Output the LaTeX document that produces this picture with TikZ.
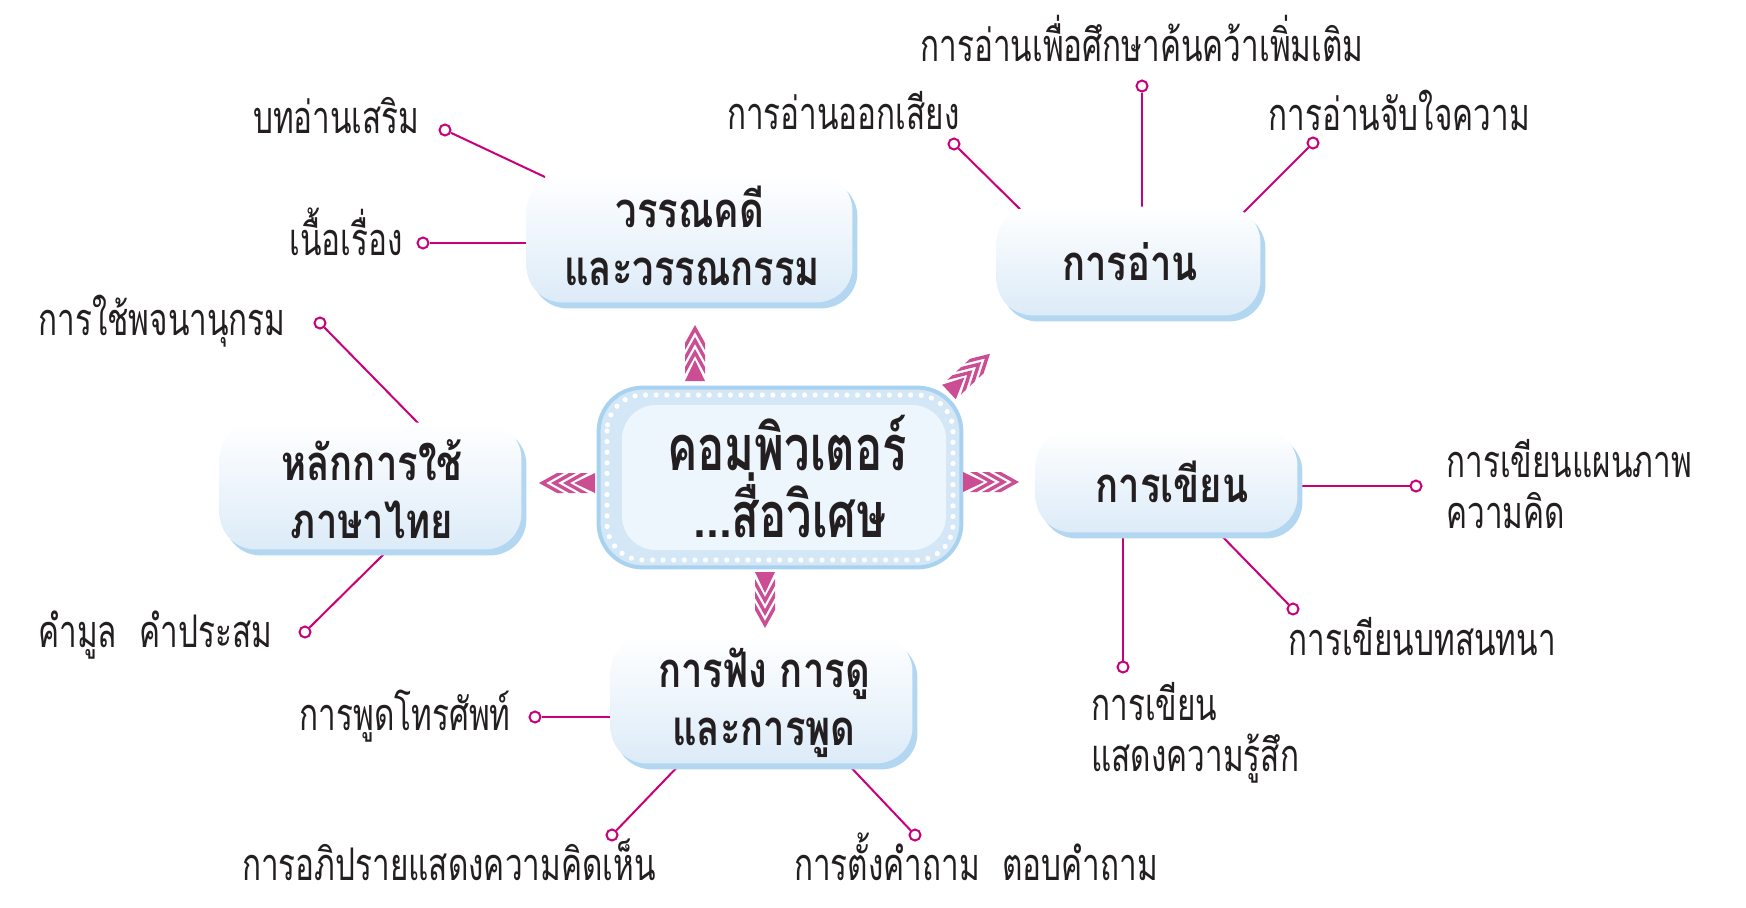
\documentclass[tikz,border=0pt]{standalone}
\usepackage{fontspec}
\newfontfamily\thaifont[Script=Thai, FakeStretch=0.70]{Loma}
\newfontfamily\thaititle[Script=Thai, FakeStretch=0.78]{Loma}
\newfontfamily\thaihub[Script=Thai, FakeStretch=0.72]{Loma}
\usetikzlibrary{calc}
\pgfdeclarelayer{background}
\pgfsetlayers{background,main}
\definecolor{lnk}{HTML}{C8007A}
\definecolor{arw}{HTML}{CB4E94}
\definecolor{txt}{HTML}{231F20}
\definecolor{boxbot}{HTML}{DCEBF8}
\definecolor{shadowc}{HTML}{B3D7F0}
\definecolor{ringc}{HTML}{D3E7F6}
\definecolor{borderc}{HTML}{A9D2F0}
\definecolor{innerc}{HTML}{EEF6FD}
\newcommand\softbox[1]{%
  \fill[shadowc, rounded corners=18pt] ([shift={(5,6)}]#1.south west) rectangle ([shift={(5,6)}]#1.north east);
  \shade[top color=white, bottom color=boxbot, rounded corners=18pt] (#1.south west) rectangle (#1.north east);}
\newcommand\pinkarrow[2]{%
  \begin{scope}[shift={#1}, rotate=#2]
    \fill[arw] (0,-10) -- (21,0) -- (0,10) -- cycle;
    \foreach \a in {32,44,56} {\fill[arw] (\a,0) -- (\a-18,10) -- (\a-25,10) -- (\a-7,0) -- (\a-25,-10) -- (\a-18,-10) -- cycle;}
  \end{scope}}
\begin{document}
\begin{tikzpicture}[x=0.5pt,y=-0.5pt,
  lbl/.style={font=\thaifont\fontsize{22.5}{25.5}\selectfont, text=txt, inner sep=0pt},
  ttl/.style={font=\thaititle\bfseries\fontsize{24.5}{29}\selectfont, text=txt, inner sep=0pt},
  ctr/.style={font=\thaihub\bfseries\fontsize{31.5}{34}\selectfont, text=txt, inner sep=0pt},
  dot/.style={circle, draw=lnk, fill=white, line width=1pt, inner sep=0pt, minimum size=5.5pt},
  link/.style={draw=lnk, line width=1pt},
  boxn/.style={rectangle, inner sep=0pt}]
\useasboundingbox (0,0) rectangle (1746,907);

% topic boxes (shapes)
\node[boxn, minimum width=162.5pt, minimum height=63.5pt] (lit) at (689.5,238.5) {};
\node[boxn, minimum width=131.5pt, minimum height=54pt] (read) at (1128.5,261) {};
\node[boxn, minimum width=150.5pt, minimum height=63pt] (thai) at (370.5,486) {};
\node[boxn, minimum width=130.5pt, minimum height=51pt] (write) at (1166.5,481) {};
\node[boxn, minimum width=150.5pt, minimum height=63.5pt] (listen) at (761.5,699.5) {};
\node[boxn, minimum width=182pt, minimum height=90.5pt] (hub) at (780,477.5) {};

% box titles
\node[ttl, anchor=base] at (690,227) {วรรณคดี};
\node[ttl, anchor=base] at (692,285) {และวรรณกรรม};
\node[ttl, anchor=base] at (1130,280) {การอ่าน};
\node[ttl, anchor=base] at (372,480) {หลักการใช้};
\node[ttl, anchor=base] at (372,538) {ภาษาไทย};
\node[ttl, anchor=base] at (1172,502) {การเขียน};
\node[ttl, anchor=base] at (764,687) {การฟัง การดู};
\node[ttl, anchor=base] at (764,745) {และการพูด};
\node[ctr, anchor=base] at (787,470) {คอมพิวเตอร์};
\node[ctr, anchor=base] at (790,537) {...สื่อวิเศษ};

% labels
\node[lbl, anchor=base] at (1142,61) {การอ่านเพื่อศึกษาค้นคว้าเพิ่มเติม};
\node[lbl, anchor=base east] at (960,129) {การอ่านออกเสียง};
\node[lbl, anchor=base west] at (1268,130) {การอ่านจับใจความ};
\node[lbl, anchor=base east] at (420,133) {บทอ่านเสริม};
\node[lbl, anchor=base east] at (403,255) {เนื้อเรื่อง};
\node[lbl, anchor=base west] at (38,335) {การใช้พจนานุกรม};
\node[lbl, anchor=base west] at (38,647) {คำมูล\enspace คำประสม};
\node[lbl, anchor=base east] at (511,730) {การพูดโทรศัพท์};
\node[lbl, anchor=base] at (449,880) {การอภิปรายแสดงความคิดเห็น};
\node[lbl, anchor=base] at (976,880) {การตั้งคำถาม\enspace ตอบคำถาม};
\node[lbl, anchor=base west] at (1288,655) {การเขียนบทสนทนา};
\node[lbl, anchor=base west, align=left] at (1091,771) {การเขียน\\แสดงความรู้สึก};
\node[lbl, anchor=base west, align=left] at (1446,528) {การเขียนแผนภาพ\\ความคิด};

% end dots
\node[dot] (drf) at (1142,86) {};
\node[dot] (dro) at (954,144) {};
\node[dot] (drj) at (1313,143) {};
\node[dot] (dlb) at (445,130) {};
\node[dot] (dln) at (423,243) {};
\node[dot] (dtp) at (320,323) {};
\node[dot] (dtk) at (305,632) {};
\node[dot] (dsp) at (535,717) {};
\node[dot] (dsd) at (612,835) {};
\node[dot] (dsq) at (915,835) {};
\node[dot] (dwm) at (1416,486) {};
\node[dot] (dwb) at (1293,609) {};
\node[dot] (dwf) at (1123,667) {};

% arrows from the hub
\pinkarrow{(695,381)}{90}
\pinkarrow{(765,572)}{-90}
\pinkarrow{(963,482)}{0}
\pinkarrow{(595,483)}{180}
\pinkarrow{(949,392)}{43}

\begin{pgfonlayer}{background}
  \draw[link] (drf) -- ([shift={(13.5,-46)}]read.center);
  \draw[link] (dro) -- ([shift={(-101.5,-45)}]read.center);
  \draw[link] (drj) -- ([shift={(107.5,-41)}]read.center);
  \draw[link] (dlb) -- ([shift={(-144.5,-61.5)}]lit.center);
  \draw[link] (dln) -- ([shift={(-154.5,4.5)}]lit.center);
  \draw[link] (dtp) -- ([shift={(49.5,-61)}]thai.center);
  \draw[link] (dtk) -- ([shift={(19.5,62)}]thai.center);
  \draw[link] (dsp) -- ([shift={(-141.5,17.5)}]listen.center);
  \draw[link] (dsd) -- ([shift={(-77.5,60.5)}]listen.center);
  \draw[link] (dsq) -- ([shift={(82.5,60.5)}]listen.center);
  \draw[link] (dwm) -- ([shift={(128.5,5)}]write.center);
  \draw[link] (dwb) -- ([shift={(48.5,48)}]write.center);
  \draw[link] (dwf) -- ([shift={(-43.5,47)}]write.center);
  \softbox{lit}
  \softbox{read}
  \softbox{thai}
  \softbox{write}
  \softbox{listen}
  % hub
  \fill[ringc, rounded corners=22pt] (hub.south west) rectangle (hub.north east);
  \draw[borderc, line width=2pt, rounded corners=22pt] ([shift={(1,-1)}]hub.south west) rectangle ([shift={(-1,1)}]hub.north east);
  \fill[innerc, rounded corners=17pt] (622,405) rectangle (946,550);
  \draw[white, line width=2.6pt, line cap=round, dash pattern=on 0pt off 5.3pt, rounded corners=18pt] (607,395) rectangle (953,560);
\end{pgfonlayer}
\end{tikzpicture}
\end{document}
